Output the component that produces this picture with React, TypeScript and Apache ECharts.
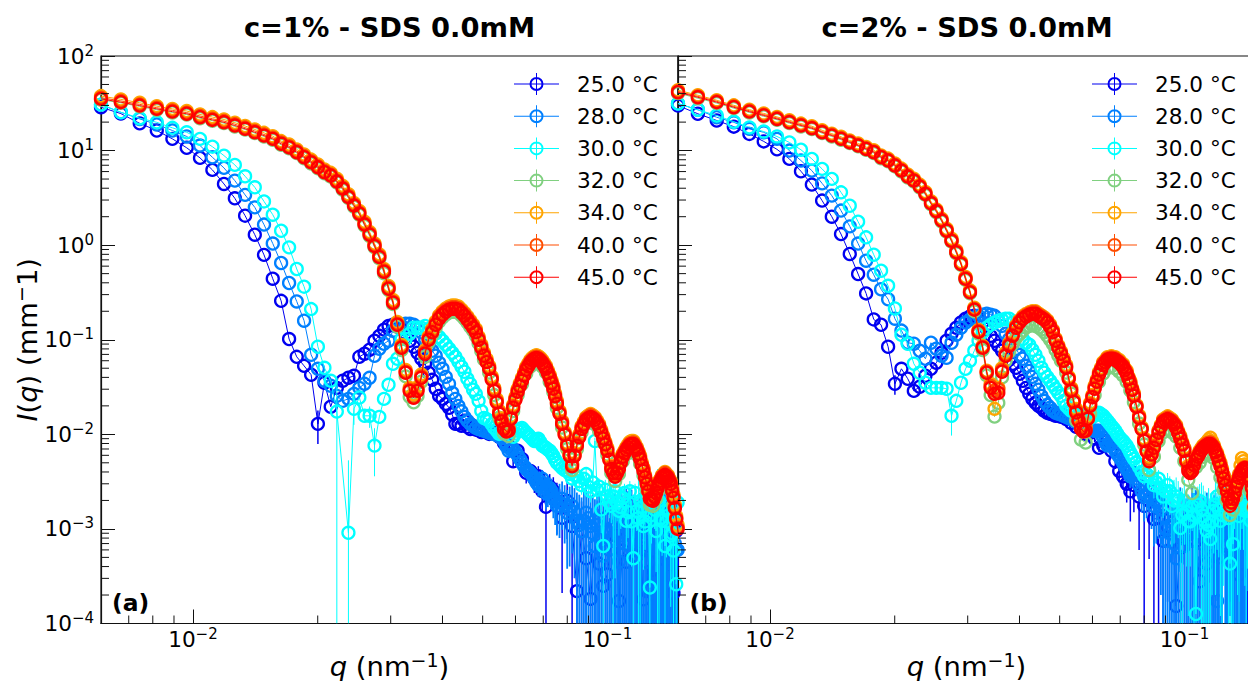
import React, { useEffect, useRef } from "react";
import * as echarts from "echarts";

const FONT = "DejaVu Sans";
const temperatures = ["25.0 °C", "28.0 °C", "30.0 °C", "32.0 °C", "34.0 °C", "40.0 °C", "45.0 °C"];
const colors = ["#0000f0", "#0080ff", "#00ffff", "#80d080", "#ffa500", "#ff4d00", "#ff0000"];
const titles = ["c=1% - SDS 0.0mM", "c=2% - SDS 0.0mM"];
const xMinor = [0.007, 0.008, 0.009, 0.02, 0.03, 0.04, 0.05, 0.06, 0.07, 0.08, 0.09];
const yMinor = [2e-4,3e-4,4e-4,5e-4,6e-4,7e-4,8e-4,9e-4,2e-3,3e-3,4e-3,5e-3,6e-3,7e-3,8e-3,9e-3,2e-2,3e-2,4e-2,5e-2,6e-2,7e-2,8e-2,9e-2,0.2,0.3,0.4,0.5,0.6,0.7,0.8,0.9,2,3,4,5,6,7,8,9,20,30,40,50,60,70,80,90];

const qValues = [.006,.0067,.00744,.00818,.00892,.00966,.0104,.01114,.01188,.01262,.01336,.0141,.01484,.01558,.01632,.01706,.0178,.01854,.01928,.02002,.02076,.0215,.02224,.02298,.02372,.02446,.0252,.02594,.02668,.02742,.02816,.0289,.02964,.03038,.03112,.03186,.0326,.03334,.03408,.03482,.03556,.0363,.03704,.03778,.03852,.03926,.04,.04074,.04148,.04222,.04296,.0437,.04444,.04518,.04592,.04666,.0474,.04814,.04888,.04962,.05036,
.05184,.05332,.0548,.05628,.05776,.05924,.06072,.0622,.06368,.06516,.06664,.06812,.0696,.07108,.07256,.07404,.07552,
.07774,.07996,.08218,.0844,.08662,.08884,.09106,.09328,.0955,.09772,.09994,.10216,.10438,.1066,.10882,.11104,.11326,.11548,.1177,.11992,.12214,.12436,.12658,.1288,.13102,.13324,.13546,.13768,.1399,.14212,.14434,.14656,.14878];
// extra readings between the points of the dense tail
const qMid = [.0511,.05258,.05406,.05554,.05702,.0585,.05998,.06146,.06294,.06442,.0659,.06738,.06886,.07034,.07182,.0733,.07478,.07663,.07885,.08107,.08329,.08551,.08773,.08995,.09217,.09439,.09661,.09883,.10105,.10327,.10549,.10771,.10993,.11215,.11437,.11659,.11881,.12103,.12325,.12547,.12769,.12991,.13213,.13435,.13657,.13879,.14101,.14323,.14545,.14767];

const I25a = [28.7,24.6,19.4,16.3,13.3,10.7,8.37,6.25,4.44,3.13,2.05,1.29,.79,.442,.258,.1017,.066,.053,.0427,.0129,.035,.0196,.031,.0368,.0396,.0416,.066,.0711,.0784,.0976,.11,.128,.14,.144,.14,.13,.116,.0976,.0843,.0728,.063,.0557,.0448,.0377,.0303,.0255,.0237,.021,.0191,.0162,.0129,.0129,.0123,.0139,.012,.0114,.0123,.0112,.0117,.0106,.0109,
.0101,.0104,.0094,.0081,.0076,.0052,.0067,.0055,.00392,.0041,.0034,.0036,.00252,.00171,.0028,.00252,.00198,
.00131,.00198,.00107,.00022,.00095,.00049,.000182,.00066,.00043,.00025,.00033,.00075,.00085,.000173,.00059,.00045,.00095,.00089,.00052,.00075,.00018,.00022,.00066,.00037,.00085,.00048,.001,.00066,.00052,.00031,.00021,.00095,.00037];
const I28a = [30.6,25.4,21.6,18.9,16.3,14.1,11.3,8.5,6.56,4.81,3.4,2.51,1.65,1.04,.648,.398,.254,.159,.0693,.0493,.0368,.0326,.0255,.0226,.0237,.0268,.031,.0342,.0396,.0677,.0803,.0907,.0976,.1245,.137,.14,.148,.148,.144,.134,.12,.102,.0864,.0765,.0677,.0571,.0493,.0405,.0342,.0275,.0237,.02,.0175,.0153,.0139,.0129,.0123,.0117,.0114,.0112,.0109,
.0104,.0101,.0096,.0085,.0067,.007,.006,.005,.0043,.0039,.0034,.0029,.0034,.0024,.0027,.0022,.00175,
.00208,.00148,.00175,.00122,.00095,.00148,.00107,.00066,.00122,.00052,.00095,.00075,.00107,.00045,.00085,.00137,.00066,.00095,.00059,.00122,.00075,.00045,.00095,.00066,.00107,.00059,.00085,.00137,.00066,.0004,.00095,.00059,.00075];
const I30a = [30.6,25.4,22,19.9,17.4,15.6,13.3,11,8.85,7.06,5.35,4.09,2.9,2.1,1.42,.948,.56,.364,.211,.0843,.0505,.0368,.0174,null,.00091,.0186,.0245,.0157,.0157,.0076,.0153,.0237,.0334,.0557,.063,.102,.102,.116,.134,.134,.134,.14,.13,.125,.116,.107,.0976,.0885,.0803,.0728,.0661,.0585,.0518,.0459,.0387,.0342,.0296,.0268,.0226,.0177,.0149,
.0139,.0117,.0101,.0104,.0123,.0094,.0109,.0117,.0104,.0094,.0085,.009,.0076,.0072,.0067,.0059,.005,
.0044,.0041,.0034,.0036,.0029,.0038,.0025,.0085,.0028,.00066,.0022,.00175,.0025,.00155,.00213,.00122,.0025,.00049,.00155,.00198,.00107,.0022,.00024,.00175,.00095,.00198,.00122,.00066,.00155,.00085,.00059,.00026,.00122];
const I32a = [34.5,32,29.3,27,25.3,24,22,20.7,19.5,18,16.7,15.3,14.1,13,11.5,10.6,9.4,8.3,7.3,6.5,5.75,5.3,4.6,3.85,3.15,2.55,2.1,1.6,1.25,.95,.725,.505,.335,.238,.138,.078,.041,.025,.0218,.0255,.036,.066,.094,.113,.135,.156,.172,.185,.194,.198,.198,.193,.18,.167,.152,.137,.125,.11,.092,.076,.062,
.045,.026,.015,.0102,.0096,.0176,.026,.034,.044,.052,.057,.057,.052,.045,.036,.028,.019,
.0118,.007,.0042,.007,.0105,.013,.014,.0128,.0108,.0082,.0061,.0039,.0032,.0038,.0052,.0062,.0069,.007,.0061,.0049,.0037,.0026,.0018,.00175,.0021,.0026,.003,.0032,.003,.0026,.0018,.0011,.00072];
const I34a = [37.7,34.8,32,29.5,27.6,26.2,24.1,22.6,21.3,19.7,18.2,16.7,15.4,14.2,12.6,11.6,10.3,9.1,8.03,7.12,6.31,5.82,5.03,4.24,3.45,2.8,2.3,1.77,1.38,1.04,.8,.56,.37,.263,.154,.088,.048,.031,.0265,.0315,.043,.077,.108,.13,.156,.181,.199,.214,.225,.23,.23,.225,.209,.193,.176,.16,.145,.13,.108,.089,.073,
.053,.031,.0178,.0122,.0117,.0205,.0301,.0394,.0515,.061,.067,.067,.061,.053,.0424,.0324,.0225,
.0138,.0081,.0049,.0081,.0122,.0152,.0164,.0152,.0128,.0096,.0072,.0046,.0038,.0046,.0062,.0073,.0083,.0085,.0073,.0059,.0044,.0032,.0022,.0021,.0026,.0032,.0037,.004,.0037,.0032,.0023,.00136,.00086];
const I40a = [36.3,33.5,30.8,28.4,26.6,25.2,23.2,21.7,20.5,19,17.5,16.1,14.8,13.7,12.2,11.1,9.9,8.75,7.72,6.85,6.08,5.6,4.84,4.08,3.32,2.7,2.21,1.7,1.33,1.005,.77,.54,.356,.253,.148,.0845,.046,.0296,.025,.03,.041,.074,.104,.125,.15,.174,.191,.206,.216,.221,.221,.216,.2,.186,.17,.154,.14,.125,.104,.0855,.07,
.051,.03,.0171,.0118,.0113,.0198,.029,.038,.05,.059,.065,.065,.059,.051,.041,.0314,.0218,
.0134,.0079,.0048,.0079,.0118,.0147,.0159,.0147,.0124,.0093,.0069,.0045,.0037,.0045,.006,.0071,.008,.0082,.0071,.0057,.0043,.0031,.00215,.00205,.0025,.0031,.0036,.0039,.0036,.0031,.0022,.0013,.00083];
const I45a = [35.2,32.5,29.9,27.6,25.8,24.5,22.5,21.1,19.9,18.4,17,15.6,14.4,13.3,11.8,10.8,9.6,8.5,7.5,6.65,5.9,5.44,4.7,3.96,3.22,2.62,2.15,1.65,1.29,.976,.747,.524,.346,.246,.144,.0823,.0448,.0288,.0243,.0288,.0396,.0711,.1,.12,.144,.167,.184,.198,.208,.213,.213,.208,.193,.179,.163,.148,.134,.12,.1,.0823,.0677,
.0493,.0288,.0165,.0114,.0109,.0191,.0281,.0368,.0481,.0571,.063,.063,.0571,.0493,.0396,.0303,.021,
.0129,.0076,.0046,.0076,.0114,.0142,.0153,.0142,.012,.009,.0067,.0043,.00355,.0043,.00577,.00685,.00774,.00793,.00685,.0055,.0041,.00299,.00208,.00198,.0024,.00299,.00346,.00373,.00346,.00299,.00213,.00127,.0008];

const I25b = [29.9,24.5,20.8,17.9,15,12.5,10.3,8.17,6.04,4.37,2.96,2,1.31,.807,.495,.309,.164,.144,.0843,.0342,.0493,.0387,.0288,.0318,.0416,.0493,.0571,.0728,.0976,.116,.134,.152,.167,.176,.179,.167,.152,.13,.11,.0976,.0864,.0765,.0693,.0615,.0557,.0505,.0437,.0368,.031,.0268,.0237,.0216,.02,.0191,.0177,.0169,.0165,.0162,.0157,.0157,.0153,
.0145,.0132,.012,.0114,.0101,.0104,.009,.0072,.0076,.0085,.0067,.0052,.0041,.0036,.003,.0025,.0029,
.0022,.00175,.00198,.00127,.0013,.00075,.00107,.00155,.000153,.00063,.00122,.00095,.00175,.00075,.00028,.00137,.00043,.00107,.00052,.00137,.00085,.00155,.00066,.00107,.00052,.00122,.00033,.00085,.00122,.00075,.00059,.00095,.00066];
const I28b = [31.4,27,22.5,19.9,17,15.6,13.3,10,7.84,6.14,4.5,3.34,2.32,1.58,1.04,.685,.487,.342,.268,.167,.125,.0929,.0907,.0765,.063,.0929,.0803,.0677,.0645,.0929,.113,.134,.152,.163,.171,.179,.184,.189,.184,.179,.159,.14,.116,.102,.0907,.0803,.0693,.063,.053,.0469,.0405,.0342,.0296,.0255,.0226,.0205,.0191,.0177,.0169,.0165,.0162,
.0153,.0145,.0135,.0126,.012,.0114,.0109,.0109,.0092,.0076,.0081,.0067,.0058,.005,.0043,.0036,.0039,
.0029,.0022,.0025,.00175,.00198,.00137,.00075,.00107,.00049,.00155,.00066,.00107,.00075,.00137,.00095,.00045,.00122,.00066,.00107,.000173,.00095,.00155,.00085,.00122,.00066,.00107,.00137,.00075,.00095,.00122,.00066,.00095,.00075];
const I30b = [31.4,27,23.5,20.2,17.6,15.9,14.1,12.2,10.2,8.17,6.4,5.02,3.62,2.61,1.77,1.21,.793,.537,.372,.214,.113,.0907,.0557,.0448,.0351,.031,.031,.031,.0303,.0157,.0226,.0351,.0493,.06,.0765,.0976,.12,.134,.144,.152,.159,.163,.167,.167,.152,.13,.116,.102,.0929,.0885,.0784,.0693,.06,.0505,.0448,.0405,.0368,.0334,.0303,.0275,.0255,
.02,.0177,.0169,.0157,.0165,.0149,.0157,.0169,.0157,.0139,.0123,.0109,.0094,.0085,.0076,.0064,.0055,
.0045,.0036,.0041,.0029,.0034,.0022,.0029,.00175,.0022,.00102,.00198,.00122,.00175,.000126,.00198,.00137,.00095,.00078,.00155,.0022,.00122,.00175,.0025,.00043,.00069,.00198,.00137,.0022,.00155,.00198,.00122,.00175,.00137];
const I32b = [40.5,35.8,31.8,28.1,25.3,23,21.2,19.5,18,16.9,15.3,14.1,13,12,11.1,10.2,9.4,8.3,7.7,6.8,6,5.2,4.7,4.07,3.4,2.71,2.23,1.78,1.39,1.09,.82,.62,.43,.31,.2,.116,.078,.042,.026,.0154,.0215,.04,.06,.075,.09,.105,.115,.125,.135,.14,.142,.14,.135,.128,.12,.11,.1,.09,.078,.068,.06,
.045,.027,.014,.0088,.0082,.0165,.026,.036,.044,.05,.052,.05,.046,.042,.036,.029,.022,
.013,.0078,.0042,.0058,.0085,.0105,.0112,.0105,.0095,.0072,.0052,.0033,.0024,.0045,.005,.0058,.0062,.0062,.0056,.0045,.0035,.0026,.002,.0014,.0016,.0022,.0028,.0032,.0034,.0032,.0025,.0017,.0011];
const I34b = [43.5,38.5,34.1,30.1,27.1,24.7,22.7,20.9,19.3,18.1,16.4,15.1,14,12.8,11.9,10.9,10.1,8.9,8.23,7.29,6.45,5.58,5.05,4.37,3.65,2.91,2.39,1.91,1.49,1.17,.88,.664,.462,.333,.218,.127,.086,.047,.034,.0186,.031,.05,.073,.092,.117,.142,.161,.177,.187,.195,.2,.2,.19,.181,.172,.161,.145,.127,.103,.087,.075,
.054,.031,.0185,.0125,.012,.0215,.0325,.0455,.058,.0655,.067,.0655,.061,.0555,.047,.0365,.0272,
.0158,.0091,.0058,.0078,.011,.0144,.0155,.0144,.0125,.0096,.0072,.0046,.0045,.0058,.0067,.0077,.0083,.0092,.0077,.0063,.005,.0037,.0027,.002,.0023,.003,.0038,.0056,.0048,.0044,.0034,.0024,.0015];
const I40b = [42.3,37.4,33.2,29.3,26.4,24,22.1,20.3,18.8,17.6,15.9,14.7,13.6,12.5,11.5,10.6,9.8,8.67,8,7.08,6.26,5.42,4.9,4.24,3.55,2.83,2.33,1.86,1.45,1.13,.856,.645,.45,.323,.212,.124,.084,.046,.0325,.029,.03,.048,.07,.089,.113,.138,.157,.172,.182,.19,.195,.195,.185,.177,.168,.157,.141,.124,.101,.085,.073,
.052,.03,.0178,.012,.0115,.0208,.0313,.044,.056,.0635,.065,.0635,.059,.0535,.045,.0353,.0263,
.0154,.0088,.0055,.0075,.0108,.014,.015,.014,.0121,.0093,.007,.0044,.0044,.0056,.0065,.0074,.008,.0082,.0074,.0061,.0048,.0036,.0026,.0019,.0022,.0029,.0036,.0042,.0045,.0042,.0033,.0023,.0014];
const I45b = [41.4,36.6,32.5,28.7,25.8,23.5,21.6,19.9,18.4,17.2,15.6,14.4,13.3,12.2,11.3,10.4,9.6,8.5,7.84,6.94,6.14,5.31,4.81,4.16,3.48,2.77,2.28,1.82,1.42,1.11,.839,.632,.44,.317,.208,.121,.0823,.0448,.031,.0268,.0275,.0459,.0677,.0864,.11,.134,.152,.167,.176,.184,.189,.189,.179,.171,.163,.152,.137,.12,.0976,.0823,.0711,
.0505,.0288,.017,.0114,.0109,.02,.0303,.0427,.0541,.0615,.063,.0615,.0571,.0518,.0437,.0342,.0255,
.0149,.0085,.0052,.0072,.0104,.0135,.0145,.0135,.0117,.009,.0067,.0041,.0041,.0054,.0063,.0072,.0077,.0079,.0072,.0059,.0046,.0034,.0025,.00175,.00208,.0028,.00346,.0041,.0044,.0041,.0032,.0022,.00137];

// readings at qMid
const M28a = [.0107,.0102,.0098,.0091,.0075,.0069,.0065,.0055,.0046,.0041,.0037,.0031,.0032,.0028,.0025,.0025,.002,.0019,.0018,.0016,.0015,.0011,.0012,.0013,.0009,.0011,.0008,.0013,.0006,.001,.0009,.0012,.0007,.001,.0013,.0008,.0011,.0007,.0012,.0006,.0009,.0012,.0007,.001,.0012,.0008,.0005,.0009,.0007,.0006];
const M30a = [.0145,.0128,.0109,.0103,.0113,.0108,.0102,.0113,.011,.0099,.0089,.0088,.0083,.0074,.0069,.0063,.0054,.0047,.0042,.0038,.0037,.0032,.0034,.0028,.0031,.0026,.0016,.0026,.0019,.0022,.0019,.0017,.0024,.0015,.0012,.0024,.0013,.0017,.0012,.0019,.0014,.0016,.0021,.0013,.0018,.0012,.0016,.0009,.0014,.0019];
const M34a = [.0625,.041,.0235,.0147,.0117,.0156,.0248,.0345,.045,.0562,.0648,.0687,.0648,.0568,.0474,.0371,.027,.0177,.0106,.0063,.0063,.01,.0136,.0158,.0158,.014,.0111,.0083,.0058,.0042,.0042,.0054,.0067,.0078,.0085,.0079,.0066,.005,.0037,.0027,.0022,.0023,.0029,.0034,.0038,.0038,.0034,.0027,.0018,.0011];
const M40a = [.0598,.0392,.0225,.0141,.011,.015,.0239,.0332,.0433,.0541,.0623,.0661,.0623,.0547,.0456,.0357,.026,.017,.0102,.0061,.0061,.0096,.0131,.0152,.0152,.0135,.0107,.008,.0056,.004,.004,.0052,.0065,.0075,.0081,.0076,.0064,.0048,.0036,.0026,.00208,.00225,.00276,.00332,.0037,.0037,.00332,.0026,.0017,.00103];
const M45a = [.058,.038,.0218,.0137,.0107,.0146,.0232,.0322,.042,.0525,.0605,.0642,.0605,.0531,.0443,.0347,.0252,.0165,.0099,.0059,.0059,.0093,.0127,.0148,.0148,.0131,.0104,.0078,.0054,.0039,.0039,.005,.0063,.0073,.0079,.0074,.0062,.0047,.0035,.0025,.00202,.00218,.00268,.00322,.0036,.0036,.00322,.00252,.00165,.001];
const M28b = [.0157,.0149,.014,.013,.0123,.0117,.0111,.0109,.01,.0084,.0078,.0074,.0062,.0054,.0046,.004,.0037,.0034,.0025,.0023,.0021,.0019,.0016,.001,.0009,.0007,.0011,.0008,.0009,.0009,.0012,.0011,.0007,.0009,.0008,.0009,.0012,.0005,.0007,.0012,.001,.001,.0009,.0009,.0012,.0009,.0008,.0011,.0008,.0009];
const M30b = [.0225,.0187,.0173,.0163,.0161,.0157,.0153,.0163,.0163,.0148,.0131,.0116,.0101,.0089,.008,.007,.0059,.005,.004,.0038,.0035,.0031,.0027,.0025,.0025,.002,.002,.0014,.0015,.0012,.0014,.0018,.0016,.0012,.0011,.0012,.0018,.0016,.0014,.002,.0013,.0016,.0022,.0017,.0018,.0019,.0016,.0018,.0015,.0015];
const M34b = [.0642,.0405,.0235,.0145,.0115,.0153,.026,.0378,.0505,.0607,.0656,.0656,.0617,.0567,.0496,.0405,.0308,.0204,.0119,.0069,.0064,.009,.0126,.0149,.0149,.0133,.0108,.0082,.0055,.0043,.005,.0061,.0072,.0079,.0088,.0084,.0069,.0056,.0043,.003,.0023,.002,.0026,.0034,.0047,.0052,.0046,.0039,.0029,.0018];
const M40b = [.0612,.0393,.0224,.0142,.0109,.0149,.0252,.0367,.049,.059,.0638,.0638,.0605,.0555,.0486,.0395,.0301,.0199,.0115,.0067,.0062,.0089,.0122,.0144,.0144,.013,.0105,.008,.0053,.004,.0048,.0059,.0069,.0077,.0081,.0078,.0066,.0053,.0041,.003,.0021,.0019,.0024,.0032,.0039,.0044,.0044,.0037,.0028,.0017];
const M45b = [.06,.0385,.022,.0139,.0107,.0146,.0247,.036,.048,.0578,.0625,.0625,.0593,.0544,.0476,.0387,.0295,.0195,.0113,.0066,.0061,.0087,.012,.0141,.0141,.0127,.0103,.0078,.0052,.0039,.0047,.0058,.0068,.0075,.0079,.0076,.0065,.0052,.004,.0029,.0021,.0019,.0024,.0031,.0038,.0043,.0043,.0036,.0027,.0017];

// error bars of the noisy tail, from point 61 on
const tailStart = 61;
const s25a = [.0006,.0006,.0006,.0007,.0007,.0008,.0008,.0008,.0009,.0009,.001,.001,.001,.0018,.001,.001,.0011,.0011,.0012,.0011,.0012,.001,.0011,.001,.0011,.0012,.001,.0011,.001,.0012,.0011,.001,.0011,.001,.0012,.0011,.001,.0012,.0011,.001,.0011,.0012,.001,.0011,.0012,.001,.0011,.001,.0012,.0011];
const s28a = [.0004,.0004,.0005,.0005,.0005,.0005,.0006,.0006,.0006,.0007,.0007,.0007,.0008,.0008,.0008,.0009,.0009,.0011,.0011,.0012,.0012,.0012,.0015,.0012,.0014,.0013,.0013,.0012,.0014,.0013,.0012,.0014,.0013,.0015,.0013,.0014,.0012,.0014,.0013,.0012,.0014,.0013,.0012,.0014,.0015,.0013,.0012,.0014,.0013,.0014];
const s30a = [.0003,.0003,.0003,.0003,.0003,.0003,.0003,.0003,.0003,.0003,.0004,.0004,.0004,.0004,.0004,.0004,.0004,.0005,.0005,.0005,.0005,.0006,.0005,.0006,.0007,.0006,.0007,.0007,.0006,.0022,.0007,.0007,.0006,.0007,.0008,.0006,.0024,.0007,.0006,.0007,.0007,.0006,.0022,.0007,.0007,.0007,.0007,.0006,.0007,.0008];
const s25b = [.0005,.0005,.0006,.0006,.0006,.0007,.0007,.0007,.0008,.0008,.0009,.0009,.001,.001,.0011,.0013,.0014,.0016,.0018,.0015,.0018,.0013,.0013,.0009,.0011,.0016,.0008,.0008,.001,.001,.0018,.0008,.0008,.0014,.0008,.0011,.0008,.0014,.0009,.0016,.0009,.0011,.0008,.0013,.0008,.0009,.0013,.0008,.0008,.001];
const s28b = [.0004,.0004,.0004,.0005,.0005,.0005,.0005,.0006,.0006,.0007,.0007,.0007,.0007,.0008,.0008,.0009,.0009,.0009,.001,.001,.0011,.0012,.0014,.0014,.0012,.0011,.0012,.0016,.0012,.0012,.0012,.0014,.001,.0012,.0013,.0012,.0012,.0012,.001,.0016,.0011,.0013,.0012,.0012,.0014,.0012,.001,.0012,.001,.0012];
const s30b = [.0004,.0004,.0003,.0004,.0003,.0004,.0003,.0004,.0004,.0004,.0004,.0005,.0005,.0005,.0005,.0005,.0005,.0006,.0007,.0007,.0008,.0008,.0009,.001,.0011,.0013,.0012,.0013,.0011,.0008,.0015,.001,.0015,.0013,.0016,.001,.0016,.0011,.0015,.0009,.0013,.0016,.0012,.0015,.0012,.0013,.0016,.0013,.0015,.0012];
const extra25a = [[19, .005]];
const extra30a = [[22, .02], [24, .0044], [25, .006], [28, .004], [29, .004]];
const extra25b = [[19, .008]];
const extra30b = [[29, .006]];

const panelSeries = [
  [I25a, I28a, I30a, I32a, I34a, I40a, I45a],
  [I25b, I28b, I30b, I32b, I34b, I40b, I45b],
];
const panelMid: (number[] | null)[][] = [
  [null, M28a, M30a, null, M34a, M40a, M45a],
  [null, M28b, M30b, null, M34b, M40b, M45b],
];
const panelSigma = [[s25a, s28a, s30a], [s25b, s28b, s30b]];
const panelExtra = [[extra25a, [], extra30a], [extra25b, [], extra30b]];
const panelTags = ["(a)", "(b)"];
const errWidths = [1.5, 1.8, 1];
const X_MIN = 0.006, X_MAX = 0.148, Y_MIN = 1e-4, Y_MAX = 100;

const legendIcon = "path://M0 10.5H45V11.5H0Z M22 0H23V22H22Z M15.5 11A7 7 0 1 1 29.5 11A7 7 0 1 1 15.5 11Z M17.5 11A5 5 0 1 0 27.5 11A5 5 0 1 0 17.5 11Z";

function powerLabel(v: number) {
  const e = Math.log10(v);
  const r = Math.round(e);
  if (Math.abs(e - r) > 1e-6) return "";
  return `{b|10}{s|${r < 0 ? "\u2212" : ""}${Math.abs(r)}}`;
}
const labelRich = {
  b: { fontSize: 21.6, fontFamily: FONT, color: "#000", lineHeight: 26 },
  s: { fontSize: 15, fontFamily: FONT, color: "#000", lineHeight: 17, verticalAlign: "top" },
};
const nameRich = {
  i: { fontSize: 27.4, fontFamily: FONT, fontStyle: "italic", color: "#000", lineHeight: 32 },
  r: { fontSize: 27.4, fontFamily: FONT, color: "#000", lineHeight: 32 },
  s: { fontSize: 19, fontFamily: FONT, color: "#000", lineHeight: 22, verticalAlign: "top" },
};

function buildOption() {
  const grids: any[] = [], xAxes: any[] = [], yAxes: any[] = [], series: any[] = [];
  const legends: any[] = [], titleOpts: any[] = [], graphics: any[] = [];
  [0, 1].forEach((p) => {
    const left = 101 + 577 * p;
    grids.push({ left, top: 56, width: 577, height: 567.5, outerBoundsMode: "none", show: true, borderColor: "#111", borderWidth: 1.2, backgroundColor: "transparent" });
    const axisLine = { show: true, onZero: false, lineStyle: { color: "#111", width: 1.2 } };
    xAxes.push({
      type: "log", gridIndex: p, min: X_MIN, max: X_MAX, logBase: 10, splitNumber: 2,
      axisLine, splitLine: { show: false }, minorTick: { show: false },
      axisTick: { show: true, inside: true, length: 14, lineStyle: { color: "#111", width: 1 } },
      axisLabel: { show: true, margin: 3, formatter: powerLabel, rich: labelRich, hideOverlap: false },
      name: "{i|q}{r| (nm}{s|\u22121}{r|)}", nameLocation: "middle", nameGap: 27, nameMoveOverlap: false, nameTextStyle: { rich: nameRich },
    });
    yAxes.push({
      type: "log", gridIndex: p, min: Y_MIN, max: Y_MAX, logBase: 10, splitNumber: 6,
      axisLine, splitLine: { show: false }, minorTick: { show: false },
      axisTick: { show: true, inside: true, length: 14, lineStyle: { color: "#111", width: 1 } },
      axisLabel: { show: p === 0, margin: 7, formatter: powerLabel, rich: labelRich, hideOverlap: false },
      ...(p === 0 ? { name: "{i|I}{r|(}{i|q}{r|) (mm}{s|\u2212}{r|1)}", nameLocation: "middle", nameGap: 58, nameRotate: 90, nameTextStyle: { rich: nameRich } } : {}),
    });
    const tail = panelSigma[p];
    panelSeries[p].forEach((vals, i) => {
      const color = colors[i];
      const mids = panelMid[p][i];
      if (i < 3) {
        const sig: Record<number, number> = {};
        tail[i].forEach((s, k) => { sig[tailStart + k] = s; });
        (panelExtra[p][i] as number[][]).forEach(([k, s]) => { sig[k] = s; });
        const errData: number[][] = [];
        vals.forEach((v, k) => {
          if (sig[k] != null && v != null) {
            errData.push([qValues[k], v, Math.max(v - sig[k], Y_MIN), v + sig[k]]);
          }
        });
        if (mids) mids.forEach((v, k) => {
          errData.push([qMid[k], v, Math.max(v - tail[i][k], Y_MIN), v + tail[i][k]]);
        });
        series.push({
          type: "custom", name: temperatures[i] + " error", xAxisIndex: p, yAxisIndex: p, z: 10 + i, clip: true, silent: true,
          data: errData, encode: { x: 0, y: 1 },
          renderItem: (_: any, api: any) => {
            const a = api.coord([api.value(0), api.value(2)]);
            const b = api.coord([api.value(0), api.value(3)]);
            return { type: "line", shape: { x1: a[0], y1: a[1], x2: b[0], y2: b[1] }, style: { stroke: color, lineWidth: errWidths[i] } };
          },
        });
      }
      const points: any[][] = vals.map((v, k) => [qValues[k], v]);
      if (mids) mids.forEach((v, k) => points.push([qMid[k], v]));
      points.sort((a, b) => a[0] - b[0]);
      series.push({
        type: "line", name: temperatures[i], xAxisIndex: p, yAxisIndex: p, z: 10 + i, clip: true, silent: true,
        connectNulls: true, showSymbol: true, showAllSymbol: true, symbol: "circle", symbolSize: 12,
        itemStyle: { color: "rgba(255,255,255,0)", borderColor: color, borderWidth: 2.3 },
        lineStyle: { color, width: 1 },
        data: points,
      });
    });
    series.push({
      type: "custom", name: "x minor ticks", xAxisIndex: p, yAxisIndex: p, z: 40, silent: true,
      data: xMinor.map((v) => [v, Y_MIN]), encode: { x: 0, y: 1 },
      renderItem: (_: any, api: any) => {
        const a = api.coord([api.value(0), api.value(1)]);
        return { type: "line", shape: { x1: a[0], y1: a[1], x2: a[0], y2: a[1] - 8 }, style: { stroke: "#111", lineWidth: 1 } };
      },
    });
    series.push({
      type: "custom", name: "y minor ticks", xAxisIndex: p, yAxisIndex: p, z: 40, silent: true,
      data: yMinor.map((v) => [X_MIN, v]), encode: { x: 0, y: 1 },
      renderItem: (_: any, api: any) => {
        const a = api.coord([api.value(0), api.value(1)]);
        return { type: "line", shape: { x1: a[0], y1: a[1], x2: a[0] + 8, y2: a[1] }, style: { stroke: "#111", lineWidth: 1 } };
      },
    });
    legends.push({
      orient: "vertical", left: 514 + 578 * p, top: 73, padding: 0, itemGap: 10.2, itemWidth: 45, itemHeight: 22, selectedMode: false, z: 100,
      textStyle: { fontSize: 21.6, fontFamily: FONT, color: "#000", padding: [0, 0, 0, 13] },
      data: temperatures.map((name, i) => ({ name, icon: legendIcon, itemStyle: { color: colors[i], borderWidth: 0 } })),
    });
    titleOpts.push({
      text: titles[p], left: 384.5 + 577.5 * p, top: 9, textAlign: "center",
      textStyle: { fontSize: 27.3, fontWeight: "bold", fontFamily: FONT, color: "#000" },
    });
    graphics.push({
      type: "text", left: 112 + 577.5 * p, top: 591, z: 100,
      style: { text: panelTags[p], fontSize: 23.4, fontWeight: "bold", fontFamily: FONT, fill: "#000" },
    });
  });
  return { animation: false, backgroundColor: "#fff", title: titleOpts, grid: grids, xAxis: xAxes, yAxis: yAxes, legend: legends, series, graphic: graphics };
}

export default function App() {
  const ref = useRef<HTMLDivElement>(null);
  useEffect(() => {
    document.body.style.margin = "0";
    document.body.style.overflow = "hidden";
    const chart = echarts.init(ref.current!, undefined, { renderer: "svg" });
    chart.setOption(buildOption() as any);
    return () => chart.dispose();
  }, []);
  return <div ref={ref} style={{ width: 1248, height: 681 }} />;
}
